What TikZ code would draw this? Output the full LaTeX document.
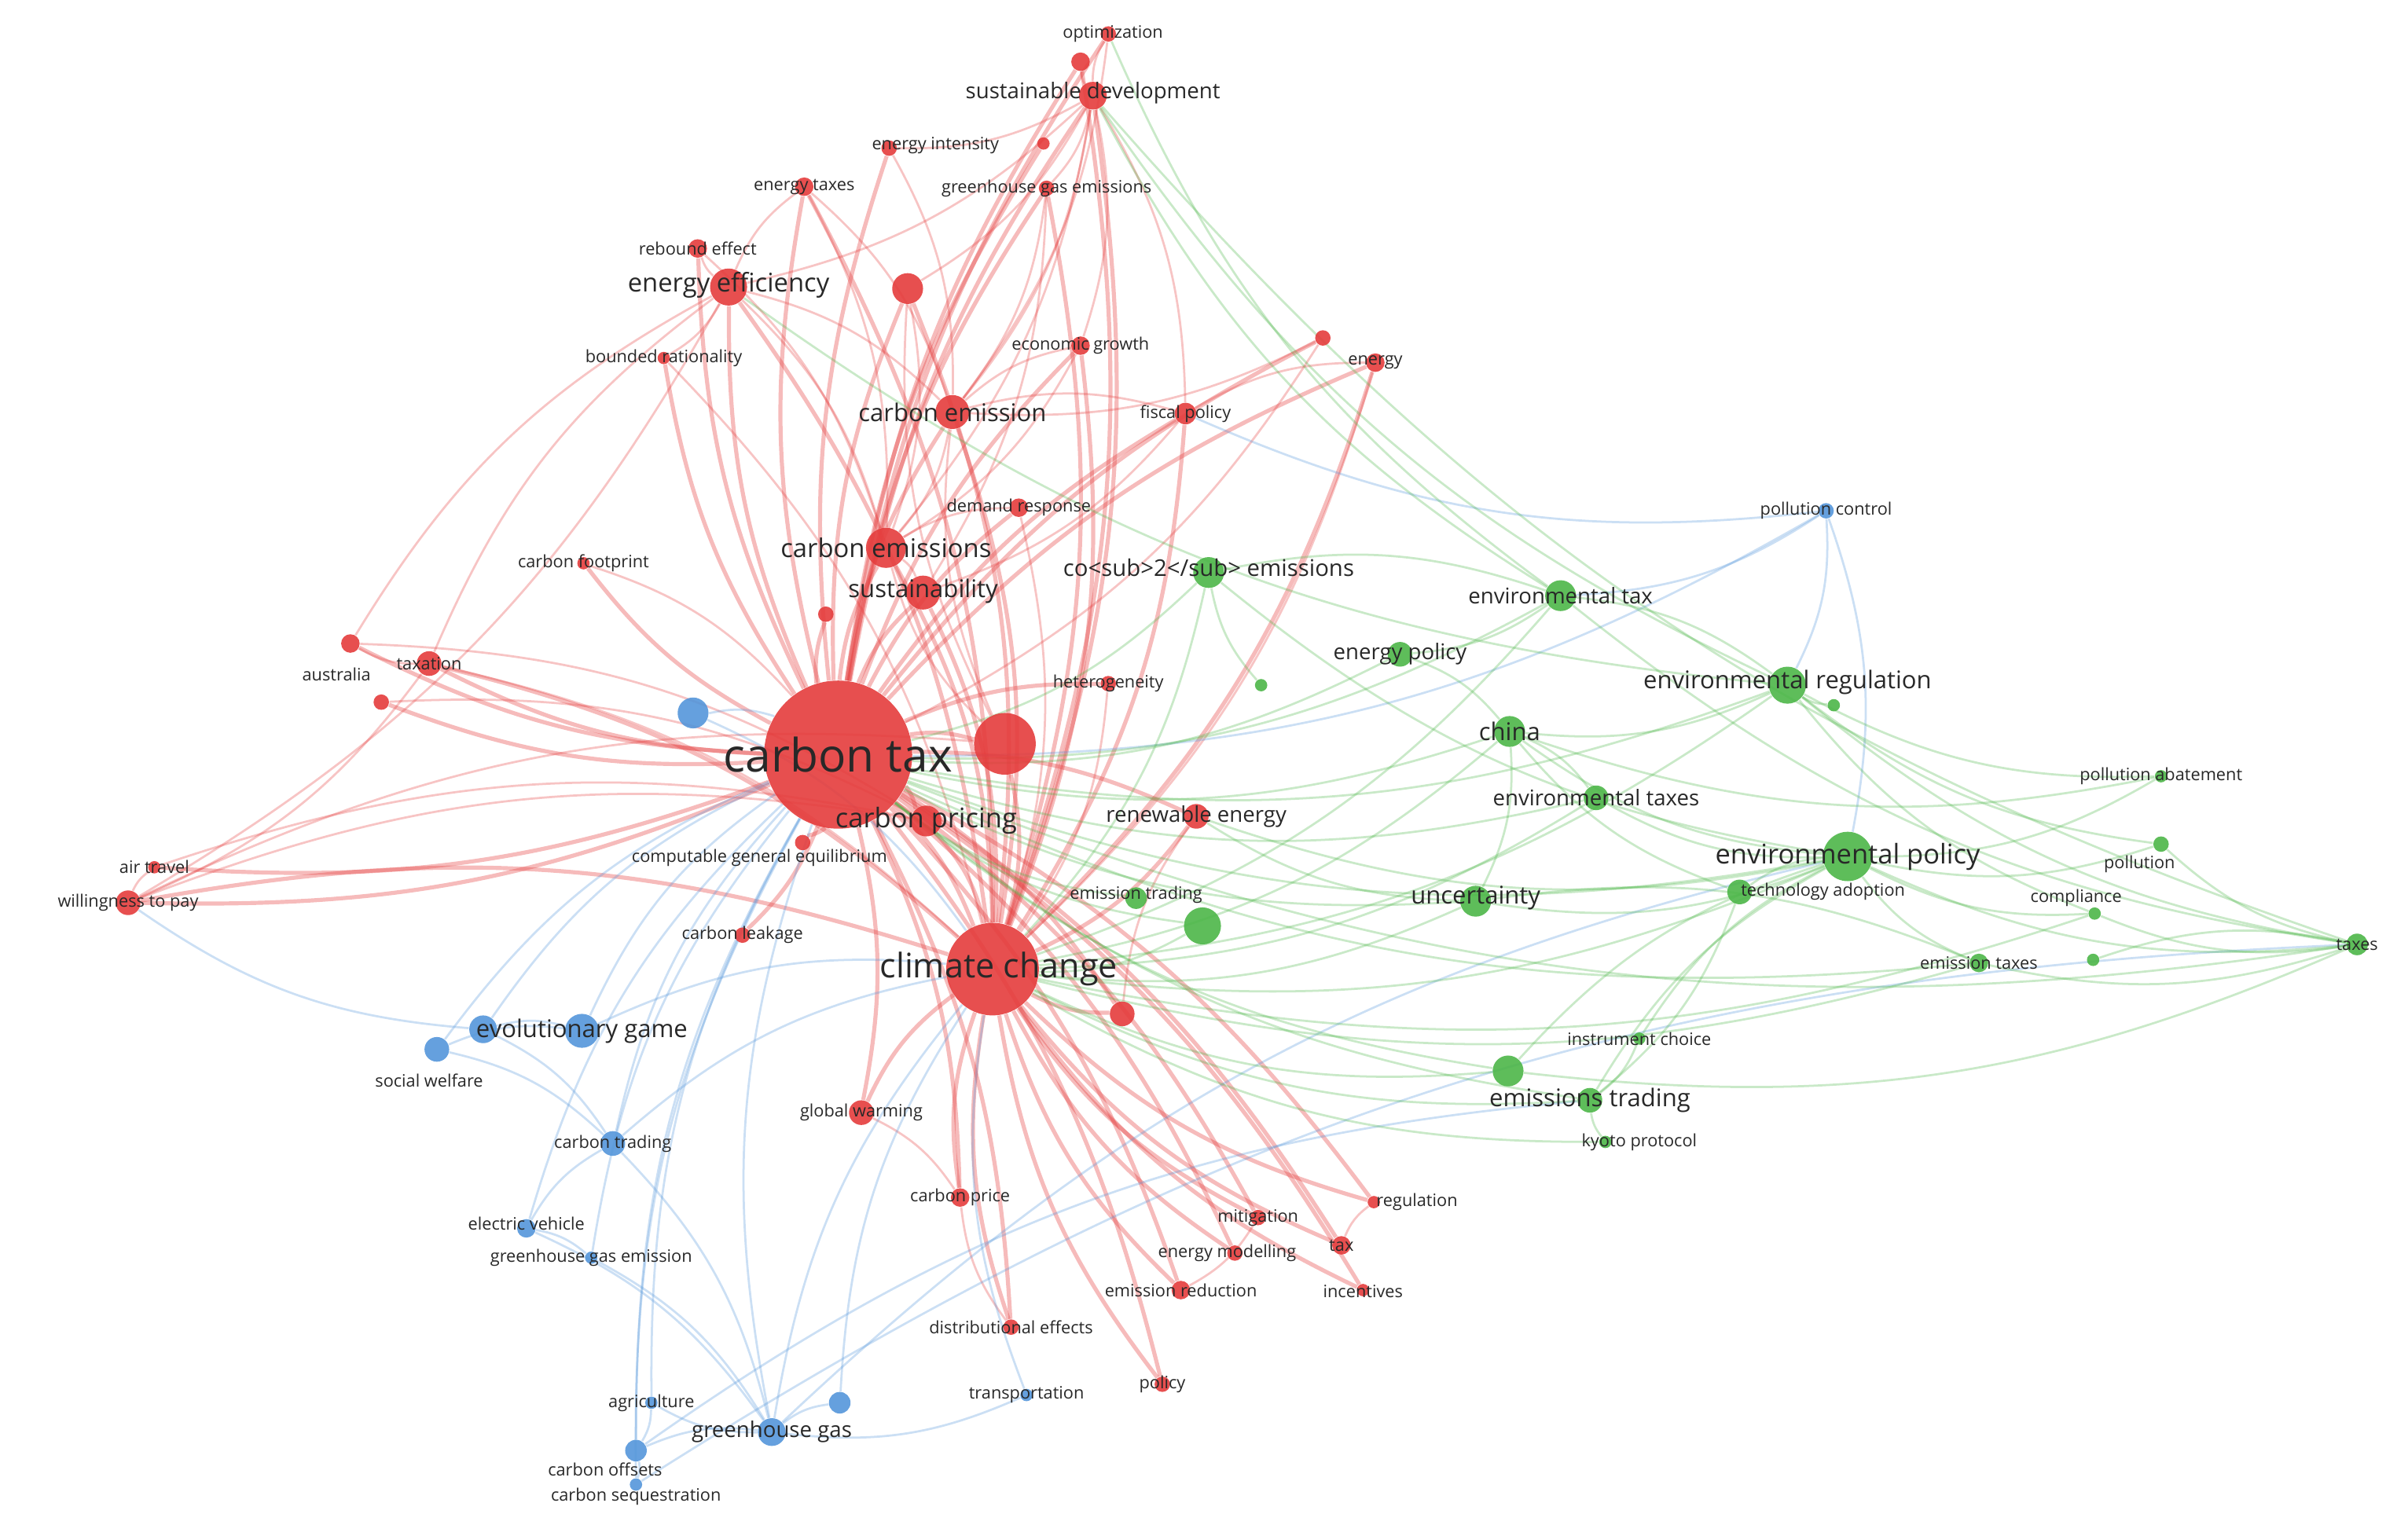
\documentclass[tikz,border=0pt]{standalone}
\usepackage{fontspec}
\setmainfont{Open Sans}
\usetikzlibrary{backgrounds}
\definecolor{vr}{RGB}{228,60,60}
\definecolor{vg}{RGB}{76,182,72}
\definecolor{vb}{RGB}{84,150,218}
\definecolor{lt}{RGB}{40,40,40}
\newcommand\nd[5]{\node[circle,fill=#5,fill opacity=0.9,minimum size={0.04cm*#4},inner sep=0pt] (#1) at (#2,#3) {};}
\newcommand\lb[5]{\node[text=lt,inner sep=0pt,font=\fontsize{#1}{#1}\selectfont] (L#5) at (#2,#3) {#4};}
\tikzset{er/.style={vr,opacity=0.3,line width=0.8pt},eg/.style={vg,opacity=0.3,line width=0.8pt},eb/.style={vb,opacity=0.3,line width=0.8pt},hub/.style={line width=1.5pt,opacity=0.35}}
\begin{document}
\begin{tikzpicture}[x=0.02cm,y=-0.02cm]
\useasboundingbox (0,0) rectangle (1560,995);
% red
\nd{opt}{718}{22}{5}{vr}\nd{ru0}{700}{40}{6}{vr}\nd{sd}{708}{62}{9}{vr}
\nd{ei}{576}{96}{5}{vr}\nd{ru1}{676}{93}{4}{vr}\nd{et}{521}{121}{6}{vr}\nd{ghg}{678}{122}{5}{vr}
\nd{rb}{452}{161}{6}{vr}\nd{ee}{472}{186}{12}{vr}\nd{ru2}{588}{187}{10}{vr}\nd{eg}{700}{224}{6}{vr}
\nd{ru3}{857}{219}{5}{vr}\nd{en}{891}{235}{6}{vr}\nd{br}{430}{232}{4}{vr}\nd{ce}{617}{267}{11}{vr}
\nd{fp}{768}{268}{7}{vr}\nd{dr}{660}{329}{6}{vr}\nd{ces}{574}{355}{13}{vr}\nd{cf}{378}{365}{4}{vr}
\nd{sus}{598}{384}{11}{vr}\nd{ru4}{535}{398}{5}{vr}\nd{tax}{278}{430}{8}{vr}\nd{au}{227}{417}{6}{vr}
\nd{ru5}{247}{455}{5}{vr}\nd{het}{718}{443}{5}{vr}\nd{ct}{543}{489}{48}{vr}\nd{big}{651}{482}{20}{vr}
\nd{cp}{600}{532}{10}{vr}\nd{re}{775}{529}{8}{vr}\nd{cge}{520}{546}{5}{vr}\nd{at}{100}{562}{4}{vr}
\nd{wtp}{83}{585}{8}{vr}\nd{cl}{481}{606}{5}{vr}\nd{cc}{643}{628}{30}{vr}\nd{ru6}{727}{657}{8}{vr}
\nd{gw}{558}{721}{8}{vr}\nd{cpr}{622}{776}{6}{vr}\nd{mit}{815}{789}{5}{vr}\nd{reg}{890}{779}{4}{vr}
\nd{tx}{869}{807}{6}{vr}\nd{emod}{800}{812}{5}{vr}\nd{ered}{765}{836}{6}{vr}\nd{inc}{883}{836}{4}{vr}
\nd{de}{655}{860}{5}{vr}\nd{pol}{753}{897}{5}{vr}
% blue
\nd{pc}{1183}{331}{5}{vb}\nd{bu1}{449}{462}{10}{vb}\nd{evg}{377}{668}{11}{vb}\nd{bu2}{313}{667}{9}{vb}
\nd{sw}{283}{680}{8}{vb}\nd{ctr}{397}{741}{8}{vb}\nd{ev}{341}{796}{6}{vb}\nd{ghge}{383}{815}{4}{vb}
\nd{agr}{422}{909}{4}{vb}\nd{gg}{500}{928}{9}{vb}\nd{bu3}{544}{909}{7}{vb}\nd{co}{412}{940}{7}{vb}
\nd{cs}{412}{962}{4}{vb}\nd{tr}{665}{904}{4}{vb}
% green
\nd{co2}{783}{371}{10}{vg}\nd{etx}{1011}{386}{10}{vg}\nd{epo}{907}{424}{8}{vg}\nd{gu1}{817}{444}{4}{vg}
\nd{ereg}{1158}{444}{12}{vg}\nd{gu2}{1188}{457}{4}{vg}\nd{china}{978}{474}{10}{vg}\nd{etxs}{1034}{517}{8}{vg}
\nd{pab}{1400}{503}{4}{vg}\nd{envp}{1197}{555}{16}{vg}\nd{ta}{1127}{578}{8}{vg}\nd{poll}{1400}{547}{5}{vg}
\nd{comp}{1357}{592}{4}{vg}\nd{unc}{956}{584}{10}{vg}\nd{emt}{736}{582}{7}{vg}\nd{gu3}{779}{600}{12}{vg}
\nd{taxes}{1527}{612}{7}{vg}\nd{emtx}{1282}{624}{6}{vg}\nd{gu4}{1356}{622}{4}{vg}\nd{ic}{1062}{673}{4}{vg}
\nd{gu5}{977}{694}{10}{vg}\nd{emst}{1030}{713}{8}{vg}\nd{kp}{1040}{740}{4}{vg}
\begin{scope}[on background layer]
\foreach \a in {opt,ru0,sd,ei,ru1,et,ghg,rb,ee,ru2,eg,ru3,en,br,ce,fp,dr,ces,cf,sus,ru4,tax,au,ru5,het,big,cp,re,cge,at,wtp,cl,cc,ru6,gw,cpr,mit,reg,tx,emod,ered,inc,de,pol}
  \draw[er,hub] (ct) to[bend left=12] (\a);
\foreach \a in {sd,ee,ru2,ce,ces,sus,tax,wtp,cp,re,gw,cpr,mit,tx,ered,pol,de,reg,inc,emod,fp,eg,en,ru0,ghg,et,big,ru6}
  \draw[er,hub] (cc) to[bend right=14] (\a);
\foreach \a/\b in {sd/opt,sd/ghg,sd/ei,sd/ee,sd/eg,sd/ru0,ee/rb,ee/et,ee/ce,ce/ces,ce/fp,ce/eg,tax/au,tax/wtp,wtp/at,wtp/cp,ee/br,ces/sus,ces/dr,fp/en,ru3/ce,big/ce,big/ces,big/ru2,sd/ce,ghg/ce,et/ces,tax/cc,au/cp,wtp/big,at/cp,ru5/cp,tx/reg,mit/ered,gw/cpr,de/cpr,ru6/re,ee/ces,ru2/ces,cf/ct,sd/ru2,opt/ce,sd/fp,ei/ce,et/ce,rb/ces,br/cc,en/cc,ru3/ct,dr/cc,het/cc,tax/ee,au/ee,ee/wtp,sd/ces,ghg/sus,fp/sus,eg/ces}
  \draw[er] (\a) to[bend left=15] (\b);
\foreach \a/\b in {bu1/ct,evg/ct,evg/cc,ctr/ct,ctr/cc,ev/ct,ghge/ct,agr/ct,gg/ct,gg/cc,co/ct,cs/ct,tr/cc,pc/ct,pc/envp,pc/ereg,pc/etx,sw/evg,bu2/evg,gg/agr,co/gg,ev/ctr,gg/bu3,bu2/ct,sw/ct,ev/ghge,co/cs,tr/gg,bu3/cc,ghge/gg,agr/co,bu2/ctr,sw/ctr,ev/gg,pc/fp,bu1/cc,cs/taxes,gg/envp,co/emst,bu2/wtp,ctr/gg}
  \draw[eb] (\a) to[bend left=15] (\b);
\foreach \a/\b in {co2/ct,co2/cc,etx/ct,etx/cc,epo/ct,ereg/ct,china/ct,china/cc,etxs/ct,envp/ct,envp/cc,unc/ct,unc/cc,emt/ct,taxes/envp,taxes/ct,emtx/envp,emst/cc,emst/ct,kp/cc,ic/envp,pab/envp,pab/ereg,poll/envp,comp/envp,ereg/china,etx/ereg,envp/etxs,envp/china,envp/unc,taxes/poll,taxes/comp,taxes/emtx,taxes/ereg,taxes/etx,gu3/ct,gu3/cc,gu5/cc,gu5/envp,ereg/sd,etx/opt,ta/envp,ta/china,gu4/taxes,gu2/ereg,gu1/co2,epo/china,co2/etx,emtx/ct,emtx/cc,ereg/cc,china/unc,emst/envp,kp/emst,ic/emst,unc/emtx,taxes/gu5,pab/china,poll/ereg,comp/ereg,envp/re,unc/re,etx/sd,ereg/ee,taxes/sd,comp/cc,etxs/cc,gu5/ct,envp/co2,etx/epo,china/etxs,ta/emst}
  \draw[eg] (\a) to[bend left=15] (\b);
\end{scope}
% labels
\def\s{6.3}
\lb{\s}{721}{22}{optimization}{opt}
\lb{8}{708}{60}{sustainable development}{sd}
\lb{\s}{606}{94}{energy intensity}{ei}
\lb{\s}{521}{121}{energy taxes}{et}
\lb{\s}{678}{122}{greenhouse gas emissions}{ghg}
\lb{\s}{452}{161}{rebound effect}{rb}
\lb{9.5}{472}{185}{energy efficiency}{ee}
\lb{\s}{700}{224}{economic growth}{eg}
\lb{\s}{891}{235}{energy}{en}
\lb{\s}{430}{232}{bounded rationality}{br}
\lb{9}{617}{267}{carbon emission}{ce}
\lb{\s}{768}{268}{fiscal policy}{fp}
\lb{\s}{660}{329}{demand response}{dr}
\lb{9.5}{574}{355}{carbon emissions}{ces}
\lb{\s}{378}{365}{carbon footprint}{cf}
\lb{9}{598}{383}{sustainability}{sus}
\lb{\s}{278}{430}{taxation}{tax}
\lb{\s}{218}{437}{australia}{au}
\lb{\s}{718}{443}{heterogeneity}{het}
\lb{17}{543}{489}{carbon tax}{ct}
\lb{10}{600}{532}{carbon pricing}{cp}
\lb{8}{775}{529}{renewable energy}{re}
\lb{\s}{492}{556}{computable general equilibrium}{cge}
\lb{\s}{100}{562}{air travel}{at}
\lb{\s}{83}{585}{willingness to pay}{wtp}
\lb{\s}{481}{606}{carbon leakage}{cl}
\lb{12.5}{647}{628}{climate change}{cc}
\lb{\s}{558}{721}{global warming}{gw}
\lb{\s}{622}{776}{carbon price}{cpr}
\lb{\s}{815}{789}{mitigation}{mit}
\lb{\s}{918}{779}{regulation}{reg}
\lb{\s}{869}{807}{tax}{tx}
\lb{\s}{795}{812}{energy modelling}{emod}
\lb{\s}{765}{836}{emission reduction}{ered}
\lb{\s}{883}{837}{incentives}{inc}
\lb{\s}{655}{860}{distributional effects}{de}
\lb{\s}{753}{897}{policy}{pol}
\lb{\s}{1183}{331}{pollution control}{pc}
\lb{9}{377}{668}{evolutionary game}{evg}
\lb{\s}{278}{700}{social welfare}{sw}
\lb{\s}{397}{741}{carbon trading}{ctr}
\lb{\s}{341}{793}{electric vehicle}{ev}
\lb{\s}{383}{815}{greenhouse gas emission}{ghge}
\lb{\s}{422}{909}{agriculture}{agr}
\lb{8}{500}{928}{greenhouse gas}{gg}
\lb{\s}{392}{952}{carbon offsets}{co}
\lb{\s}{412}{970}{carbon sequestration}{cs}
\lb{\s}{665}{904}{transportation}{tr}
\lb{8.5}{783}{368}{co<sub>2</sub> emissions}{co2}
\lb{8}{1011}{386}{environmental tax}{etx}
\lb{8}{907}{424}{energy policy}{epo}
\lb{9}{1158}{442}{environmental regulation}{ereg}
\lb{9}{978}{474}{china}{china}
\lb{8}{1034}{517}{environmental taxes}{etxs}
\lb{\s}{1400}{503}{pollution abatement}{pab}
\lb{10}{1197}{555}{environmental policy}{envp}
\lb{\s}{1181}{578}{technology adoption}{ta}
\lb{\s}{1386}{560}{pollution}{poll}
\lb{\s}{1345}{582}{compliance}{comp}
\lb{9}{956}{582}{uncertainty}{unc}
\lb{\s}{736}{580}{emission trading}{emt}
\lb{\s}{1527}{612}{taxes}{taxes}
\lb{\s}{1282}{624}{emission taxes}{emtx}
\lb{\s}{1062}{673}{instrument choice}{ic}
\lb{9}{1030}{713}{emissions trading}{emst}
\lb{\s}{1062}{740}{kyoto protocol}{kp}
\end{tikzpicture}
\end{document}
